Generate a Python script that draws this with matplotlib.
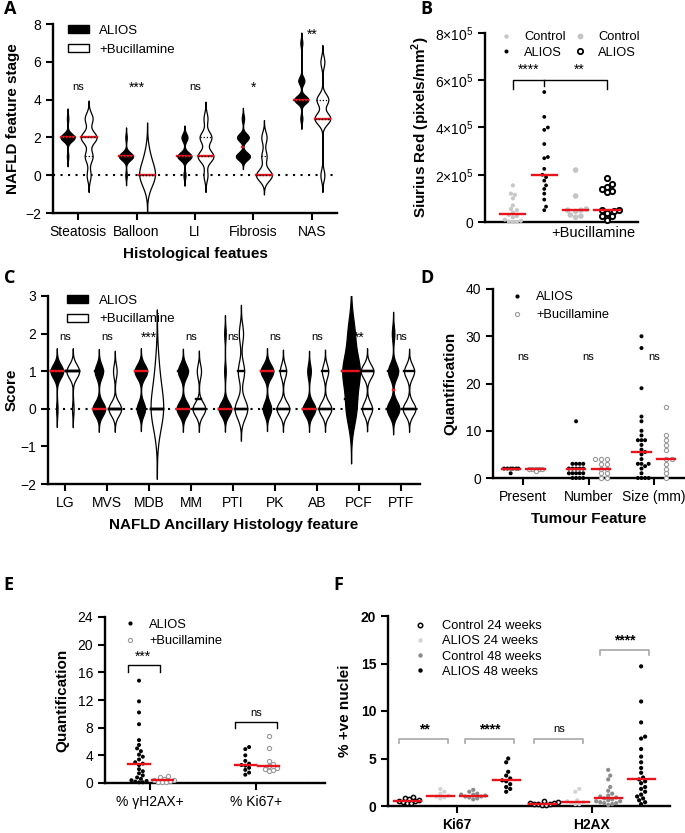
import numpy as np
import matplotlib
matplotlib.use("Agg")
import matplotlib.pyplot as plt
from matplotlib.patches import Patch
from matplotlib.lines import Line2D

plt.rcParams['font.family'] = ['Liberation Sans', 'DejaVu Sans']
plt.rcParams['mathtext.fontset'] = 'custom'
plt.rcParams['mathtext.rm'] = 'Liberation Sans'
plt.rcParams['mathtext.bf'] = 'Liberation Sans:bold'

# ---------------- data ----------------
# A: NAFLD feature stage (scores per mouse)
a_cats = ["Steatosis", "Balloon", "LI", "Fibrosis", "NAS"]
a_alios = [
    [1, 2, 2, 2, 2, 2, 2, 2, 2, 2, 2, 3],
    [0, 1, 1, 1, 1, 1, 1, 1, 1, 1, 1, 2],
    [0, 1, 1, 1, 1, 1, 1, 1, 2, 2, 2],
    [1, 1, 1, 1, 1, 1, 2, 2, 2, 2, 2, 3],
    [3, 4, 4, 4, 4, 4, 4, 4, 5, 5, 5, 7],
]
a_buc = [
    [0, 1, 1, 2, 2, 2, 2, 3, 3],
    [0, 0, 0, 0, 0, 0, 0, 1, 1],
    [0, 1, 1, 1, 1, 2, 2, 2, 3],
    [0, 0, 0, 0, 0, 0, 1, 1, 2, 2],
    [0, 3, 3, 3, 3, 4, 4, 4, 6],
]
a_sig = ["ns", "***", "ns", "*", "**"]

# B: Sirius red (x 1e5 pixels/mm2)
b_groups = ["Control", "ALIOS", "Control +Buc", "ALIOS +Buc"]
b_ctrl = [1.55, 1.2, 1.15, 1.0, 0.7, 0.55, 0.5, 0.4, 0.3, 0.25, 0.2, 0.1, 0.05, 0.02, 0.0, 0.0]
b_alios = [5.5, 4.45, 4.0, 3.9, 3.3, 2.75, 2.7, 2.25, 2.0, 1.9, 1.75, 1.55, 1.4, 1.2, 0.95, 0.65, 0.5]
b_ctrl_buc = [2.2, 1.1, 0.55, 0.5, 0.5, 0.45, 0.3, 0.25, 0.2]
b_alios_buc = [1.85, 1.6, 1.5, 1.4, 1.3, 1.25, 0.5, 0.5, 0.45, 0.4, 0.25, 0.25, 0.1]
b_scale = 1e5

# C: ancillary histology
c_cats = ["LG", "MVS", "MDB", "MM", "PTI", "PK", "AB", "PCF", "PTF"]
c_alios = [
    [0] + [1] * 9,
    [0] * 6 + [1] * 4,
    [0] * 4 + [1] * 6,
    [0] * 5 + [1] * 4,
    [0] * 8 + [1] + [2],
    [0] * 4 + [1] * 6,
    [0] * 7 + [1] * 2,
    [0] * 3 + [1] * 5 + [2] * 2,
    [0] * 5 + [1] * 4 + [2],
]
c_buc = [
    [0] + [1] * 8,
    [0] * 7 + [1] * 2,
    [0] * 7 + [1] * 2,
    [0] * 6 + [1] * 2,
    [0] * 6 + [1] * 3 + [2] * 2,
    [0] * 6 + [1] * 3,
    [0] * 6 + [1] * 3,
    [0] * 4 + [1] * 5,
    [0] * 5 + [1] * 4,
]
c_sig = ["ns", "ns", "***", "ns", "ns", "ns", "ns", "**", "ns"]

# D: tumour features
d_cats = ["Present", "Number", "Size (mm)"]
d_alios = [
    [2, 2, 2, 2, 2, 2, 1],
    [12, 3, 3, 3, 3, 2, 2, 2, 2, 2, 1, 1, 1, 1, 1, 0, 0, 0, 0],
    [30, 27.5, 19, 13, 12, 10, 9, 8, 8, 8, 7, 6, 5.5, 5, 4, 3, 3, 3, 2.5, 2, 1, 0, 0, 0, 0],
]
d_buc = [
    [2, 2, 2, 2, 2, 1.5],
    [4, 4, 4, 3, 3, 2, 2, 1, 1, 0, 0],
    [15, 9, 8, 7, 6, 4, 4, 3, 2, 1, 0],
]
d_sig = ["ns", "ns", "ns"]

# E: gH2AX / Ki67
e_cats = ["% \u03b3H2AX+", "% Ki67+"]
e_alios = [
    [14.8, 11.8, 10.2, 8.5, 6.2, 5.5, 5.0, 4.6, 4.1, 3.8, 3.4, 3.0, 2.8, 2.6, 2.0, 1.7, 1.4,
     1.1, 0.8, 0.6, 0.4, 0.3, 0.2, 0.1, 0.1],
    [5.2, 4.9, 4.0, 3.2, 2.8, 2.6, 2.5, 2.2, 1.9, 1.5, 1.2],
]
e_buc = [
    [1.0, 0.8, 0.6, 0.5, 0.4, 0.3, 0.2, 0.1, 0.1],
    [6.8, 5.0, 3.2, 2.8, 2.4, 2.2, 2.0, 1.9, 1.8],
]
e_sig = ["***", "ns"]

# F: % positive nuclei
f_cats = ["Ki67", "H2AX"]
f_series = ["Control 24 weeks", "ALIOS 24 weeks", "Control 48 weeks", "ALIOS 48 weeks"]
f_ki67 = [
    [0.9, 0.8, 0.7, 0.6, 0.5, 0.5, 0.4, 0.3, 0.3],
    [1.8, 1.5, 1.3, 1.1, 1.0, 0.9, 0.8],
    [1.7, 1.5, 1.3, 1.2, 1.2, 1.1, 1.0, 1.0, 0.9, 0.8, 0.7],
    [5.0, 4.6, 3.6, 3.2, 2.9, 2.7, 2.6, 2.3, 2.0, 1.8, 1.5],
]
f_h2ax = [
    [0.5, 0.4, 0.3, 0.3, 0.2, 0.2, 0.2, 0.1, 0.1],
    [1.8, 1.5, 0.6, 0.5, 0.4, 0.3, 0.2, 0.2],
    [3.8, 3.2, 2.8, 2.0, 1.6, 1.3, 1.1, 1.0, 0.9, 0.8, 0.7, 0.6, 0.5, 0.5, 0.4, 0.3, 0.3, 0.2, 0.1],
    [14.7, 11.0, 8.8, 7.3, 7.1, 6.0, 5.2, 4.6, 4.0, 3.5, 3.0, 2.8, 2.6, 2.4, 2.0, 1.8, 1.5, 1.2,
     1.0, 0.8, 0.6, 0.4, 0.2],
]
f_sig = ["**", "****", "ns", "****"]

RED = '#e8141c'
W, H = 685, 833
fig = plt.figure(figsize=(W / 100, H / 100), dpi=100)


def px_axes(l, t, r, b):
    return fig.add_axes([l / W, 1 - b / H, (r - l) / W, (b - t) / H])


def style(ax, bold=False):
    for s in ('top', 'right'):
        ax.spines[s].set_visible(False)
    for s in ('left', 'bottom'):
        ax.spines[s].set_linewidth(1.7)
    ax.tick_params(width=1.5, length=5, labelsize=10)
    if bold:
        for lab in ax.get_xticklabels() + ax.get_yticklabels():
            lab.set_fontweight('bold')


def violin(ax, pos, vals, bw, width, fill, med_col, q_kw, q_first):
    v = np.asarray(vals, float)
    grid = np.linspace(v.min() - 5 * bw, v.max() + 5 * bw, 800)
    dens = np.exp(-0.5 * ((grid[:, None] - v[None, :]) / bw) ** 2).sum(axis=1)
    idx = np.nonzero(dens > dens.max() * 0.003)[0]
    grid = grid[idx[0]:idx[-1] + 1]
    dens = dens[idx[0]:idx[-1] + 1]
    half = dens / dens.max() * width / 2
    ax.fill_betweenx(grid, pos - half, pos + half, facecolor=fill, edgecolor='black',
                     linewidth=0.9, zorder=2)
    q1, med, q3 = np.percentile(v, [25, 50, 75])

    def qlines():
        for q in (q1, q3):
            hw = np.interp(q, grid, half)
            ax.plot([pos - hw, pos + hw], [q, q], zorder=3, **q_kw)

    if q_first:
        qlines()
    hw = np.interp(med, grid, half)
    ax.plot([pos - hw, pos + hw], [med, med], color=med_col, lw=1.7, zorder=3)
    if not q_first:
        qlines()


def swarm(ax, x0, ys, d_px, pack=0.95):
    T = ax.transData
    pix = T.transform(np.column_stack([np.full(len(ys), x0), ys]))
    cx = pix[0, 0]
    placed = []
    out = np.empty(len(ys))
    for i in np.argsort(ys, kind='stable'):
        y = pix[i, 1]
        k = 0
        while True:
            off = ((k + 1) // 2) * (1 if k % 2 else -1) * d_px * 0.5 * pack
            if all((px - (cx + off)) ** 2 + (py - y) ** 2 >= (d_px * pack) ** 2 for px, py in placed):
                break
            k += 1
        placed.append((cx + off, y))
        out[i] = T.inverted().transform((cx + off, y))[0]
    return out


def dots(ax, x0, vals, d_px, face, edge, lw=0.0, med_hw=0.15, z=4, scale=1.0, pack=0.95):
    ys = np.asarray(vals, float) * scale
    xs = swarm(ax, x0, ys, d_px, pack)
    ax.scatter(xs, ys, s=(d_px * 0.72) ** 2, facecolor=face, edgecolor=edge, linewidths=lw,
               zorder=z, clip_on=False)
    med = np.median(ys)
    ax.plot([x0 - med_hw, x0 + med_hw], [med, med], color=RED, lw=1.7, zorder=z + 1)


def zero_line(ax):
    ax.axhline(0, color='black', ls=(0, (1, 2.6)), lw=1.5, zorder=1)


def bracket(ax, x1, x2, y, drop, color='black', lw=1.0):
    ax.plot([x1, x1, x2, x2], [y - drop, y, y, y - drop], color=color, lw=lw, zorder=3)


# ---------------- A ----------------
axA = px_axes(53, 24, 337, 213)
xA = np.arange(len(a_cats))
axA.set_xlim(-0.43, len(a_cats) - 1 + 0.43)
axA.set_ylim(-2, 8)
zero_line(axA)
for i in range(len(a_cats)):
    violin(axA, xA[i] - 0.18, a_alios[i], 0.2, 0.24, 'black', RED,
           dict(color='black', ls=(0, (1, 1.5)), lw=0.9), False)
    violin(axA, xA[i] + 0.18, a_buc[i], 0.6 if i == 1 else 0.3, 0.27, 'white', RED,
           dict(color='black', ls=(0, (1, 1.5)), lw=0.9), False)
    ya = 7.45 if i == 4 else 4.65
    axA.text(xA[i], ya, a_sig[i], ha='center', va='center', fontsize=8 if a_sig[i] == 'ns' else 10)
axA.set_xticks(xA)
axA.set_xticklabels(a_cats)
axA.set_yticks([-2, 0, 2, 4, 6, 8])
axA.set_ylabel("NAFLD feature stage", fontsize=11, fontweight='bold', labelpad=4)
axA.set_xlabel("Histological featues", fontsize=11, fontweight='bold', labelpad=6)
style(axA)
axA.legend([Patch(facecolor='black', edgecolor='black'), Patch(facecolor='white', edgecolor='black')],
           ['ALIOS', '+Bucillamine'], loc='upper left', bbox_to_anchor=(0.01, 1.06), frameon=False,
           fontsize=9.5, handlelength=1.6, handleheight=0.55, labelspacing=0.55, handletextpad=0.8)

# ---------------- B ----------------
axB = px_axes(485, 33, 638, 222)
xB = np.arange(len(b_groups))
axB.set_xlim(-0.89, 3.99)
axB.set_ylim(0, 8e5)
style(axB)
dots(axB, xB[0], b_ctrl, 4.2, '#c8c8c8', 'none', med_hw=0.4, scale=b_scale)
dots(axB, xB[1], b_alios, 3.8, 'black', 'none', med_hw=0.4, scale=b_scale)
dots(axB, xB[2], b_ctrl_buc, 5.6, '#c4c4c4', 'none', med_hw=0.4, scale=b_scale)
dots(axB, xB[3], b_alios_buc, 5.2, 'white', 'black', lw=1.4, med_hw=0.4, scale=b_scale)
bracket(axB, xB[0], xB[3], 6.0e5, 0.35e5)
axB.plot([xB[1], xB[1]], [6.0e5, 5.75e5], color='black', lw=1.0)
axB.text(0.5, 6.45e5, "****", ha='center', va='center', fontsize=10)
axB.text(2.1, 6.45e5, "**", ha='center', va='center', fontsize=10)
axB.set_xticks([])
axB.set_yticks([0, 2e5, 4e5, 6e5, 8e5])
axB.set_yticklabels(['0', '2\u00d710$^5$', '4\u00d710$^5$', '6\u00d710$^5$', '8\u00d710$^5$'])
axB.set_ylabel("Siurius Red (pixels/mm$^\\mathbf{2}$)", fontsize=11, fontweight='bold', labelpad=2)
axB.text(2.55, -0.45e5, "+Bucillamine", ha='center', va='center', fontsize=10.5)
hB = [Line2D([], [], ls='none', marker='o', ms=3.2, mfc='#c8c8c8', mec='none'),
      Line2D([], [], ls='none', marker='o', ms=2.9, mfc='black', mec='none'),
      Line2D([], [], ls='none', marker='o', ms=4.2, mfc='#c4c4c4', mec='none'),
      Line2D([], [], ls='none', marker='o', ms=3.8, mfc='white', mec='black', mew=1.3)]
axB.legend(hB, ['Control', 'ALIOS', 'Control', 'ALIOS'], ncol=2, loc='upper left',
           bbox_to_anchor=(0.02, 1.07), frameon=False, fontsize=9.3, handlelength=1.0,
           handletextpad=0.9, labelspacing=0.25, columnspacing=0.6)

# ---------------- C ----------------
axC = px_axes(48, 296, 420, 484)
xC = np.arange(len(c_cats))
axC.set_xlim(-0.4, len(c_cats) - 1 + 0.45)
axC.set_ylim(-2, 3)
zero_line(axC)
c_bw_a = [0.18, 0.18, 0.18, 0.18, 0.18, 0.18, 0.18, 0.45, 0.2]
c_bw_b = [0.18, 0.18, 0.55, 0.18, 0.25, 0.18, 0.18, 0.18, 0.18]
for i in range(len(c_cats)):
    violin(axC, xC[i] - 0.19, c_alios[i], c_bw_a[i], 0.3 if i != 7 else 0.42, 'black', RED,
           dict(color='black', lw=1.7), True)
    violin(axC, xC[i] + 0.19, c_buc[i], c_bw_b[i], 0.3, 'white', 'black',
           dict(color='black', lw=1.7), True)
    axC.text(xC[i], 1.9, c_sig[i], ha='center', va='center', fontsize=8 if c_sig[i] == 'ns' else 10)
axC.set_xticks(xC)
axC.set_xticklabels(c_cats)
axC.set_yticks([-2, -1, 0, 1, 2, 3])
axC.set_ylabel("Score", fontsize=11, fontweight='bold', labelpad=1)
axC.set_xlabel("NAFLD Ancillary Histology feature", fontsize=11, fontweight='bold', labelpad=6)
style(axC)
axC.legend([Patch(facecolor='black', edgecolor='black'), Patch(facecolor='white', edgecolor='black')],
           ['ALIOS', '+Bucillamine'], loc='upper left', bbox_to_anchor=(0.02, 1.07), frameon=False,
           fontsize=9.5, handlelength=1.6, handleheight=0.55, labelspacing=0.5, handletextpad=0.8)

# ---------------- D ----------------
axD = px_axes(493, 289, 684, 478)
xD = np.arange(len(d_cats))
axD.set_xlim(-0.46, 2.46)
axD.set_ylim(0, 40)
style(axD)
for i in range(len(d_cats)):
    pk = 0.55 if i == 0 else 0.9
    dots(axD, xD[i] - 0.19, d_alios[i], 4.0, 'black', 'none', med_hw=0.14, pack=pk)
    dots(axD, xD[i] + 0.19, d_buc[i], 4.2, 'white', '#9a9a9a', lw=0.8, med_hw=0.14, pack=pk)
    axD.text(xD[i], 25.7, d_sig[i], ha='center', va='center', fontsize=8)
axD.set_xticks(xD)
axD.set_xticklabels(d_cats)
axD.set_yticks([0, 10, 20, 30, 40])
axD.set_ylabel("Quantification", fontsize=11, fontweight='bold', labelpad=6)
axD.set_xlabel("Tumour Feature", fontsize=11, fontweight='bold', labelpad=6)
hD = [Line2D([], [], ls='none', marker='o', ms=3.0, mfc='black', mec='none'),
      Line2D([], [], ls='none', marker='o', ms=3.0, mfc='white', mec='#9a9a9a', mew=0.8)]
axD.legend(hD, ['ALIOS', '+Bucillamine'], loc='upper left', bbox_to_anchor=(0.03, 1.05),
           frameon=False, fontsize=9.3, handlelength=1.0, handletextpad=1.0, labelspacing=0.45)

# ---------------- E ----------------
axE = px_axes(105, 617, 325, 783)
xE = np.arange(len(e_cats))
axE.set_xlim(-0.42, 1.65)
axE.set_ylim(0, 24)
zero_line(axE)
style(axE)
for i in range(len(e_cats)):
    dots(axE, xE[i] - 0.1, e_alios[i], 4.0, 'black', 'none', med_hw=0.1)
    dots(axE, xE[i] + 0.12, e_buc[i], 4.2, 'white', '#9a9a9a', lw=0.8, med_hw=0.1)
bracket(axE, xE[0] - 0.2, xE[0] + 0.1, 17.0, 0.9)
axE.text(xE[0] - 0.06, 18.3, e_sig[0], ha='center', va='center', fontsize=10)
bracket(axE, xE[1] - 0.2, xE[1] + 0.2, 8.8, 0.9)
axE.text(xE[1], 10.1, e_sig[1], ha='center', va='center', fontsize=8)
axE.set_xticks(xE)
axE.set_xticklabels(e_cats)
axE.set_yticks([0, 4, 8, 12, 16, 20, 24])
axE.set_ylabel("Quantification", fontsize=11, fontweight='bold', labelpad=6)
hE = [Line2D([], [], ls='none', marker='o', ms=3.0, mfc='black', mec='none'),
      Line2D([], [], ls='none', marker='o', ms=3.0, mfc='white', mec='#9a9a9a', mew=0.8)]
axE.legend(hE, ['ALIOS', '+Bucillamine'], loc='upper left', bbox_to_anchor=(0.03, 1.06),
           frameon=False, fontsize=9.3, handlelength=1.0, handletextpad=1.0, labelspacing=0.35)

# ---------------- F ----------------
axF = px_axes(388, 616, 670, 806)
xF = np.arange(len(f_cats))
axF.set_xlim(-0.51, 1.58)
axF.set_ylim(0, 20)
style(axF)
f_face = ['white', '#d4d4d4', '#8c8c8c', 'black']
f_edge = ['black', 'none', 'none', 'none']
f_off = [-0.366, -0.122, 0.122, 0.366]
for i, data in enumerate([f_ki67, f_h2ax]):
    for j in range(4):
        dots(axF, xF[i] + f_off[j], data[j], 4.2, f_face[j], f_edge[j], lw=1.1 if j == 0 else 0,
             med_hw=0.1)
f_br = [(0, 0, 1, 7.1), (0, 2, 3, 7.1), (1, 0, 1, 7.1), (1, 2, 3, 16.4)]
for k, (ci, g1, g2, yb) in enumerate(f_br):
    xa = xF[ci] + f_off[g1] - 0.06
    xb = xF[ci] + f_off[g2] + 0.06
    bracket(axF, xa, xb, yb, 0.5, color='#a8a8a8', lw=1.2)
    axF.text((xa + xb) / 2, yb + 1.0, f_sig[k], ha='center', va='center',
             fontsize=8 if f_sig[k] == 'ns' else 10, fontweight='bold' if f_sig[k] != 'ns' else 'normal')
axF.set_xticks(xF)
axF.set_xticklabels(f_cats)
axF.set_yticks([0, 5, 10, 15, 20])
axF.set_ylabel("% +ve nuclei", fontsize=11, fontweight='bold', labelpad=6)
style(axF, bold=True)
hF = [Line2D([], [], ls='none', marker='o', ms=3.2, mfc=f_face[j],
             mec='black' if j == 0 else 'none', mew=1.1) for j in range(4)]
axF.legend(hF, f_series, loc='upper left', bbox_to_anchor=(0.05, 1.04), frameon=False,
           fontsize=9.3, handlelength=1.0, handletextpad=1.2, labelspacing=0.25)

# panel letters
for lab, x, y in [("A", 4, 14), ("B", 420, 14), ("C", 4, 283), ("D", 420, 283),
                  ("E", 3, 590), ("F", 333, 590)]:
    fig.text(x / W, 1 - y / H, lab, fontsize=13, fontweight='bold', family='Open Sans', va='baseline')

fig.savefig("out.png", dpi=100)
